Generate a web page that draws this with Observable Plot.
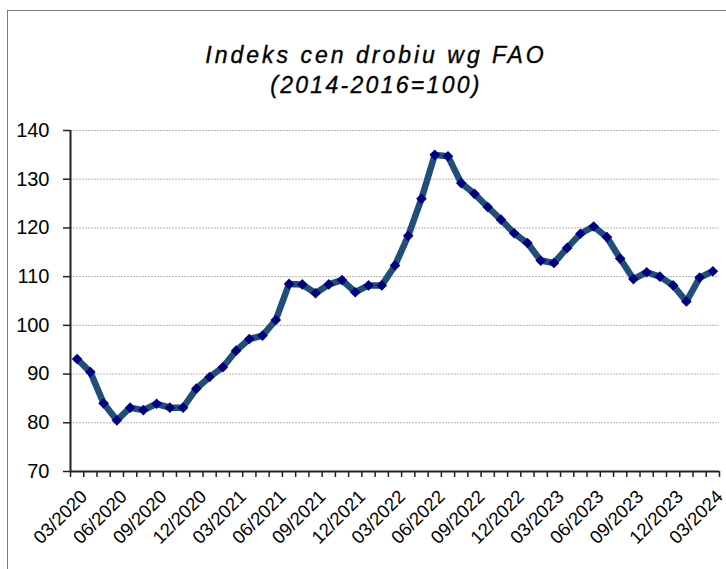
<!DOCTYPE html>
<html>
<head>
<meta charset="utf-8">
<script src="https://cdn.jsdelivr.net/npm/d3@7"></script>
<script src="https://cdn.jsdelivr.net/npm/@observablehq/plot@0.6"></script>
<style>
html,body{margin:0;padding:0;background:#fff;overflow:hidden}
#wrap{position:relative;width:726px;height:569px;overflow:hidden;font-family:"Liberation Sans",Arial,sans-serif}
#frame{position:absolute;left:7px;top:10px;width:900px;height:900px;border:1px solid #7a7a7a;box-sizing:border-box}
.t{position:absolute;left:0;width:752px;text-align:center;font-style:italic;font-size:23px;line-height:23px;color:#000;white-space:nowrap;-webkit-text-stroke:0.35px #000}
#t1{top:44px;letter-spacing:3px}
#t2{top:74px;letter-spacing:2.3px}
#chart{position:absolute;left:0;top:110px}
</style>
</head>
<body>
<div id="wrap">
  <div id="frame"></div>
  <div class="t" id="t1">Indeks cen drobiu wg FAO</div>
  <div class="t" id="t2">(2014-2016=100)</div>
  <div id="chart"></div>
</div>
<script>
const months = [
  "03/2020","04/2020","05/2020","06/2020","07/2020","08/2020","09/2020","10/2020","11/2020","12/2020",
  "01/2021","02/2021","03/2021","04/2021","05/2021","06/2021","07/2021","08/2021","09/2021","10/2021","11/2021","12/2021",
  "01/2022","02/2022","03/2022","04/2022","05/2022","06/2022","07/2022","08/2022","09/2022","10/2022","11/2022","12/2022",
  "01/2023","02/2023","03/2023","04/2023","05/2023","06/2023","07/2023","08/2023","09/2023","10/2023","11/2023","12/2023",
  "01/2024","02/2024","03/2024"
];
const values = [
  93.1, 90.4, 84.0, 80.5, 83.1, 82.6, 83.9, 83.1, 83.1, 87.0,
  89.4, 91.4, 94.8, 97.2, 97.9, 101.1, 108.5, 108.4, 106.6, 108.4,
  109.3, 106.8, 108.2, 108.2, 112.3, 118.4, 126.0, 135.0, 134.7, 129.2,
  127.0, 124.3, 121.7, 118.9, 116.9, 113.3, 112.8, 115.9, 118.8, 120.3,
  118.1, 113.7, 109.5, 110.9, 110.0, 108.2, 104.9, 109.8, 111.1
];
const yTicks = [70, 80, 90, 100, 110, 120, 130, 140];
const xLabelEvery = 3;

const rows = months.map((m, i) => ({i, month: m, value: values[i]}));
const labelRows = rows.filter(r => r.i % xLabelEvery === 0);
const bounds = d3.range(months.length + 1).map(k => k - 0.5);
const yMin = yTicks[0];

const chart = Plot.plot({
  width: 726,
  height: 459,
  marginTop: 20,
  marginBottom: 98,
  marginLeft: 70,
  marginRight: 7,
  style: {fontFamily: "'Liberation Sans', Arial, sans-serif", background: "transparent", color: "#000", overflow: "visible"},
  x: {type: "linear", domain: [-0.5, months.length - 0.5], axis: null},
  y: {domain: [yTicks[0], yTicks[yTicks.length - 1]], axis: null},
  marks: [
    Plot.gridY(yTicks.slice(1), {stroke: "#b4b4b4", strokeOpacity: 1, strokeDasharray: "2,1"}),
    Plot.axisY(yTicks, {tickSize: 7, tickPadding: 14, fontSize: 20, label: null, stroke: "#222", strokeWidth: 1.5}),
    Plot.axisX(bounds, {tickSize: 6, tickFormat: () => "", label: null, stroke: "#222", strokeWidth: 1.5}),
    Plot.ruleX([-0.5], {stroke: "#222", strokeWidth: 2}),
    Plot.ruleY([yMin], {stroke: "#222", strokeWidth: 2}),
    Plot.text(labelRows, {x: "i", y: () => yMin, text: "month", rotate: -45, textAnchor: "end", dx: 7, dy: 22, fontSize: 18.5, fill: "#000"}),
    Plot.lineY(rows, {x: "i", y: "value", stroke: "#1F4E79", strokeWidth: 6.5, strokeLinejoin: "round", strokeLinecap: "round"}),
    Plot.dot(rows, {x: "i", y: "value", symbol: "diamond2", fill: "#000080", stroke: "none", r: 4.8})
  ]
});
document.getElementById("chart").appendChild(chart);
</script>
</body>
</html>
